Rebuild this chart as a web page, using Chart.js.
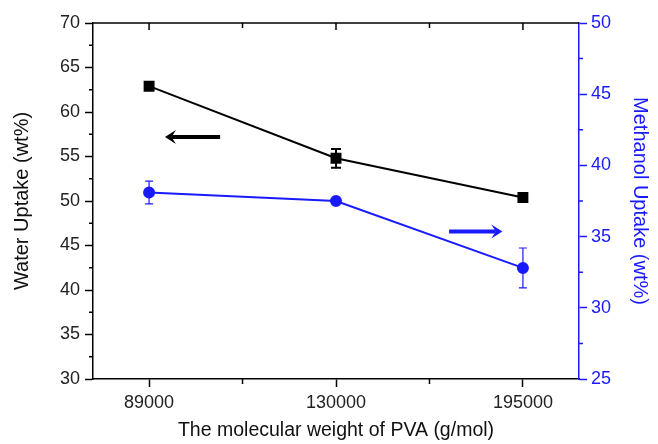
<!DOCTYPE html>
<html>
<head>
<meta charset="utf-8">
<script src="https://cdn.jsdelivr.net/npm/chart.js@4.4.1/dist/chart.umd.min.js"></script>
<style>
  body { margin: 0; background: #fff; }
  canvas { display: block; }
</style>
</head>
<body>
<canvas id="grafico" width="658" height="444"></canvas>
<script>
// datos
const pesoPVA = ['89000', '130000', '195000'];
const posX = [0, 1, 2];
const aguaUptake = [62.9, 54.8, 50.4];
const aguaError = [0.2, 1.05, 0.2];
const metanolUptake = [38.1, 37.5, 32.8];
const metanolError = [0.8, 0.1, 1.4];

const AZUL = '#1a1aff';
const FUENTE = "'Liberation Sans', Arial, sans-serif";

// flechas que indican a que eje va cada serie (en unidades de datos)
const flechas = [
  { eje: 'yAgua', desde: [0.38, 57.2], hasta: [0.085, 57.2], color: '#000' },
  { eje: 'yMetanol', desde: [1.605, 35.35], hasta: [1.89, 35.35], color: AZUL }
];

const puntos = (vals) => vals.map((v, i) => ({ x: posX[i], y: v }));

// barras de error
const pluginErrores = {
  id: 'errores',
  afterDatasetsDraw(chart) {
    const ctx = chart.ctx;
    chart.data.datasets.forEach((ds, di) => {
      const meta = chart.getDatasetMeta(di);
      const ys = chart.scales[ds.yAxisID];
      ctx.save();
      ctx.strokeStyle = ds.borderColor;
      ctx.lineWidth = ds.errWidth;
      ds.errores.forEach((e, i) => {
        const px = meta.data[i].x;
        const y1 = ys.getPixelForValue(ds.data[i].y + e);
        const y2 = ys.getPixelForValue(ds.data[i].y - e);
        const c = ds.errCap;
        ctx.beginPath();
        ctx.moveTo(px, y1); ctx.lineTo(px, y2);
        ctx.moveTo(px - c, y1); ctx.lineTo(px + c, y1);
        ctx.moveTo(px - c, y2); ctx.lineTo(px + c, y2);
        ctx.stroke();
      });
      ctx.restore();
    });
  }
};

// ticks menores, borde superior y flechas
const pluginExtras = {
  id: 'extras',
  afterDraw(chart) {
    const ctx = chart.ctx;
    const { top, bottom, left, right } = chart.chartArea;
    const sx = chart.scales.x, yA = chart.scales.yAgua, yM = chart.scales.yMetanol;
    ctx.save();
    ctx.lineWidth = 1.5;

    // borde superior con ticks hacia adentro
    ctx.strokeStyle = '#000';
    ctx.beginPath();
    ctx.moveTo(left, top); ctx.lineTo(right, top);
    [0, 0.5, 1, 1.5, 2].forEach(v => {
      const px = sx.getPixelForValue(v);
      ctx.moveTo(px, top); ctx.lineTo(px, top + (Number.isInteger(v) ? 7 : 5));
    });
    // menores abajo
    [0.5, 1.5].forEach(v => {
      const px = sx.getPixelForValue(v);
      ctx.moveTo(px, bottom); ctx.lineTo(px, bottom + 5);
    });
    // menores eje izquierdo
    for (let v = 32.5; v < 70; v += 5) {
      const py = yA.getPixelForValue(v);
      ctx.moveTo(left, py); ctx.lineTo(left - 4, py);
    }
    ctx.stroke();

    ctx.strokeStyle = AZUL;
    ctx.beginPath();
    for (let v = 27.5; v < 50; v += 5) {
      const py = yM.getPixelForValue(v);
      ctx.moveTo(right, py); ctx.lineTo(right + 4, py);
    }
    ctx.stroke();

    // flechas
    flechas.forEach(f => {
      const ys = chart.scales[f.eje];
      const x1 = sx.getPixelForValue(f.desde[0]);
      const x2 = sx.getPixelForValue(f.hasta[0]);
      const y = ys.getPixelForValue(f.desde[1]);
      const dir = Math.sign(x2 - x1);
      const cabeza = 11;
      ctx.strokeStyle = f.color;
      ctx.fillStyle = f.color;
      ctx.lineWidth = 4;
      ctx.beginPath();
      ctx.moveTo(x1, y); ctx.lineTo(x2 - dir * cabeza * 0.6, y);
      ctx.stroke();
      ctx.beginPath();
      ctx.moveTo(x2, y);
      ctx.lineTo(x2 - dir * cabeza, y - 7);
      ctx.lineTo(x2 - dir * cabeza * 0.6, y);
      ctx.lineTo(x2 - dir * cabeza, y + 7);
      ctx.closePath();
      ctx.fill();
    });
    ctx.restore();
  }
};

const ctx = document.getElementById('grafico').getContext('2d');
new Chart(ctx, {
  type: 'line',
  data: {
    datasets: [
      {
        label: 'Water Uptake',
        data: puntos(aguaUptake),
        errores: aguaError,
        errWidth: 2,
        errCap: 5,
        yAxisID: 'yAgua',
        borderColor: '#000',
        backgroundColor: '#000',
        borderWidth: 2,
        pointStyle: 'rect',
        pointRadius: 6.3,
        pointHoverRadius: 6.3,
        fill: false
      },
      {
        label: 'Methanol Uptake',
        data: puntos(metanolUptake),
        errores: metanolError,
        errWidth: 1.2,
        errCap: 4,
        yAxisID: 'yMetanol',
        borderColor: AZUL,
        backgroundColor: AZUL,
        borderWidth: 2,
        pointStyle: 'circle',
        pointRadius: 5,
        pointHoverRadius: 5,
        fill: false
      }
    ]
  },
  options: {
    responsive: false,
    animation: false,
    layout: { padding: { top: 23, left: 0, right: 0, bottom: 0 } },
    plugins: { legend: { display: false }, tooltip: { enabled: false } },
    scales: {
      x: {
        type: 'linear',
        min: -0.3,
        max: 2.3,
        afterBuildTicks: (s) => { s.ticks = posX.map(v => ({ value: v })); },
        afterFit: (s) => { s.height = 65; },
        border: { color: '#000', width: 1.5 },
        grid: { drawOnChartArea: false, color: '#000', tickLength: 8, tickWidth: 1.5 },
        ticks: {
          color: '#222',
          font: { family: FUENTE, size: 18 },
          padding: 5,
          maxRotation: 0,
          callback: (v) => pesoPVA[posX.indexOf(v)] ?? ''
        },
        title: {
          display: true,
          text: 'The molecular weight of PVA (g/mol)',
          color: '#111',
          font: { family: FUENTE, size: 19.5 },
          padding: { top: 0, bottom: 2 }
        }
      },
      yAgua: {
        position: 'left',
        min: 30,
        max: 70,
        afterFit: (s) => { s.width = 93; },
        border: { color: '#000', width: 1.5 },
        grid: { drawOnChartArea: false, color: '#000', tickLength: 8, tickWidth: 1.5 },
        ticks: { stepSize: 5, color: '#222', font: { family: FUENTE, size: 18 }, padding: 5 },
        title: {
          display: true,
          text: 'Water Uptake (wt%)',
          color: '#111',
          font: { family: FUENTE, size: 20 },
          padding: { top: 10, bottom: 0 }
        }
      },
      yMetanol: {
        position: 'right',
        min: 25,
        max: 50,
        afterFit: (s) => { s.width = 79; },
        border: { color: AZUL, width: 1.5 },
        grid: { drawOnChartArea: false, color: AZUL, tickLength: 8, tickWidth: 1.5 },
        ticks: { stepSize: 5, color: AZUL, font: { family: FUENTE, size: 18 }, padding: 4 },
        title: {
          display: true,
          text: 'Methanol Uptake (wt%)',
          color: AZUL,
          font: { family: FUENTE, size: 20 },
          padding: { top: 6, bottom: 0 }
        }
      }
    }
  },
  plugins: [pluginErrores, pluginExtras]
});
</script>
</body>
</html>
